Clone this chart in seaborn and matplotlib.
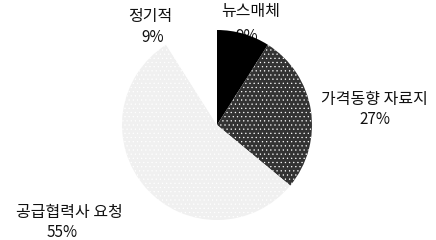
import matplotlib
matplotlib.use("Agg")
import matplotlib.pyplot as plt
import seaborn as sns

# slice data, clockwise from 12 o'clock
labels = ["뉴스매체", "가격동향 자료지", "공급협력사 요청", "정기적"]
shares = [9, 27, 55, 9]
colors = ["#000000", "#333333", "#f0f0f0", "#ffffff"]
hatches = ["", "....", "....", ""]

# label / percent anchor positions (pie radius units)
label_xy = [(0.35, 1.19), (1.66, 0.27), (-1.55, -0.92), (-0.70, 1.14)]
pct_xy = [(0.31, 0.93), (1.66, 0.06), (-1.63, -1.13), (-0.68, 0.92)]

sns.set_theme(style="white")
plt.rcParams["font.family"] = ["Noto Sans CJK KR", "DejaVu Sans"]
plt.rcParams["hatch.color"] = "#9a9a9a"
plt.rcParams["hatch.linewidth"] = 0.4

fig = plt.figure(figsize=(4.36, 2.4), dpi=100)
ax = fig.add_axes([(217 - 95) / 436, (240 - 125 - 95) / 240, 190 / 436, 190 / 240])

wedges, _ = ax.pie(shares, colors=colors, startangle=90, counterclock=False,
                   radius=1, wedgeprops=dict(linewidth=0, zorder=3))
for w, h in zip(wedges, hatches):
    w.set_hatch(h)

for lab, val, (lx, ly), (px, py) in zip(labels, shares, label_xy, pct_xy):
    ax.text(lx, ly, lab, ha="center", va="center", fontsize=11.5,
            color="#111111", zorder=1, clip_on=False)
    ax.text(px, py, f"{val}%", ha="center", va="center", fontsize=11,
            color="#111111", zorder=1, clip_on=False)

ax.set_xlim(-1, 1)
ax.set_ylim(-1, 1)
ax.set_aspect("auto")
ax.axis("off")

fig.savefig("out.png", dpi=100)
